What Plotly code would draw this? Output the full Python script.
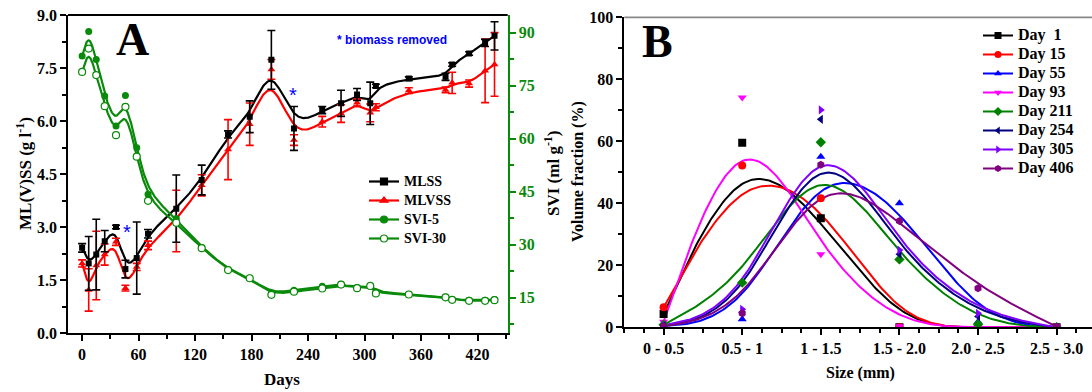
import numpy as np
import plotly.graph_objects as go

# ---------------- Panel A data ----------------
days = [0, 7, 15, 24, 36, 46, 58, 70, 100, 127, 155, 178, 201, 225, 255, 275, 292, 306, 312, 347, 386, 393, 411, 428, 438]
mlss = [2.41, 1.97, 2.22, 2.60, 3.00, 1.81, 2.12, 2.81, 3.52, 4.33, 5.62, 6.12, 7.73, 5.79, 6.31, 6.50, 6.75, 6.50, 6.99, 7.20, 7.25, 7.60, 7.91, 8.21, 8.41]
mlss_err = [0.12, 0.76, 1.00, 0.30, 0.05, 0.25, 1.02, 0.12, 0.95, 0.42, 0.10, 0.45, 0.83, 0.62, 0.10, 0.37, 0.17, 0.60, 0.05, 0.05, 0.10, 0.05, 0.05, 0.10, 0.40]
mlvss = [1.97, 1.22, 1.91, 2.22, 2.58, 1.27, 1.87, 2.48, 3.17, 4.18, 5.19, 5.91, 7.46, 5.46, 5.98, 6.21, 6.52, 6.23, 6.39, 6.86, 6.88, 7.08, 7.06, 7.42, 7.60]
mlvss_err = [0.10, 0.60, 0.97, 0.30, 0.10, 0.08, 0.10, 0.12, 0.87, 0.30, 0.85, 0.60, 0.28, 0.15, 0.15, 0.25, 0.10, 0.25, 0.10, 0.08, 0.08, 0.30, 0.10, 0.90, 0.90]
svi5 = [83.4, 90.3, 82.4, 72.1, 63.6, 72.2, 57.4, 44.3, 37.4, 29.2, 23.0, 20.6, 16.2, 17.1, 18.2, 18.8, 17.9, 18.5, 16.6, 16.0, 15.2, 14.5, 14.3, 14.3, 14.5]
svi30 = [78.9, 85.5, 78.0, 69.2, 61.0, 69.0, 54.9, 42.4, 36.2, 29.0, 22.8, 20.5, 15.8, 16.7, 17.6, 18.7, 17.7, 18.3, 16.2, 15.9, 15.1, 14.4, 14.1, 14.1, 14.3]
removed_days = [48, 224]
removed_y = [2.85, 6.73]

# ---------------- Panel B data ----------------
size_labels = ["0 - 0.5", "0.5 - 1", "1 - 1.5", "1.5 - 2.0", "2.0 - 2.5", "2.5 - 3.0"]
day_names = ["Day  1", "Day 15", "Day 55", "Day 93", "Day 211", "Day 254", "Day 305", "Day 406"]
vol_day1 = [4.3, 59.5, 35.2, 0, 0, 0]
vol_day15 = [6.5, 52.2, 41.6, 0, 0, 0]
vol_day55 = [0.4, 2.6, 55.0, 40.0, 1.8, 0]
vol_day93 = [1.8, 74.1, 23.6, 0.3, 0, 0]
vol_day211 = [0.8, 14.4, 59.7, 21.9, 1.0, 0]
vol_day254 = [0.5, 4.8, 67.1, 23.6, 3.5, 0]
vol_day305 = [0.6, 5.8, 70.1, 24.9, 4.5, 0]
vol_day406 = [0.3, 4.5, 52.4, 34.3, 12.6, 0.2]


def bspline(xs, ys, per_seg=40):
    """Uniform cubic B-spline with the data points as control points, end points tripled
    (Origin 'B-Spline' connection style)."""
    P = np.column_stack([np.asarray(xs, float), np.asarray(ys, float)])
    Q = np.vstack([P[:1], P[:1], P, P[-1:], P[-1:]])
    t = np.linspace(0, 1, per_seg, endpoint=False)[:, None]
    b0 = (1 - t) ** 3 / 6
    b1 = (3 * t ** 3 - 6 * t ** 2 + 4) / 6
    b2 = (-3 * t ** 3 + 3 * t ** 2 + 3 * t + 1) / 6
    b3 = t ** 3 / 6
    segs = []
    for i in range(len(Q) - 3):
        segs.append(b0 * Q[i] + b1 * Q[i + 1] + b2 * Q[i + 2] + b3 * Q[i + 3])
    segs.append(Q[-1:])
    C = np.vstack(segs)
    return C[:, 0], C[:, 1]


W, H = 1092, 392
MT, MB = 15, 59
PH = H - MT - MB
SERIF = "Liberation Serif"
GREEN = "#0a8a0a"

fig = go.Figure()

# ---------- Panel A ----------
for yv, col, yax in [(svi5, GREEN, "y2"), (svi30, GREEN, "y2"), (mlss, "black", "y"), (mlvss, "red", "y")]:
    cx, cy = bspline(days, yv)
    fig.add_trace(go.Scatter(x=cx, y=cy, mode="lines", line=dict(color=col, width=2.2),
                             xaxis="x", yaxis=yax, showlegend=False, hoverinfo="skip"))

fig.add_trace(go.Scatter(x=days, y=svi5, mode="markers", xaxis="x", yaxis="y2", showlegend=False,
                         marker=dict(symbol="circle", size=7, color=GREEN)))
fig.add_trace(go.Scatter(x=days, y=svi30, mode="markers", xaxis="x", yaxis="y2", showlegend=False,
                         marker=dict(symbol="circle", size=7, color="white", line=dict(color=GREEN, width=1.2))))
fig.add_trace(go.Scatter(x=days, y=mlvss, mode="markers", xaxis="x", yaxis="y", showlegend=False,
                         marker=dict(symbol="triangle-up", size=7, color="red"),
                         error_y=dict(type="data", array=mlvss_err, color="red", thickness=1.6, width=4)))
fig.add_trace(go.Scatter(x=days, y=mlss, mode="markers", xaxis="x", yaxis="y", showlegend=False,
                         marker=dict(symbol="square", size=6, color="black"),
                         error_y=dict(type="data", array=mlss_err, color="black", thickness=1.6, width=4)))


def lname(s, size):
    return '<span style="font-size:%dpx">%s</span>' % (size, s)


# legend proxies A
for name, col, sym, fill in [("MLSS", "black", "square", "black"), ("MLVSS", "red", "triangle-up", "red"),
                             ("SVI-5", GREEN, "circle", GREEN), ("SVI-30", GREEN, "circle", "white")]:
    fig.add_trace(go.Scatter(x=[None], y=[None], mode="lines+markers", name=lname(name, 14), xaxis="x", yaxis="y",
                             line=dict(color=col, width=2.2),
                             marker=dict(symbol=sym, size=7, color=fill, line=dict(color=col, width=1.2)),
                             legend="legend"))

# ---------- Panel B ----------
idx = list(range(len(size_labels)))
series_b = [vol_day1, vol_day15, vol_day55, vol_day93, vol_day211, vol_day254, vol_day305, vol_day406]
colors_b = ["black", "red", "blue", "#ff00ff", "#008000", "#000080", "#8000ff", "#800080"]
symbols_b = ["square", "circle", "triangle-up", "triangle-down", "diamond", "triangle-left", "triangle-right", "hexagon"]

for name, vals, col, sym in zip(day_names, series_b, colors_b, symbols_b):
    cx, cy = bspline(idx, vals)
    fig.add_trace(go.Scatter(x=cx, y=cy, mode="lines", line=dict(color=col, width=2),
                             xaxis="x2", yaxis="y3", showlegend=False, hoverinfo="skip"))
for name, vals, col, sym in zip(day_names, series_b, colors_b, symbols_b):
    fig.add_trace(go.Scatter(x=idx, y=vals, mode="markers", xaxis="x2", yaxis="y3", showlegend=False,
                             marker=dict(symbol=sym, size=8, color=col)))
    fig.add_trace(go.Scatter(x=[None], y=[None], mode="lines+markers", name=lname(name, 16), xaxis="x2", yaxis="y3",
                             line=dict(color=col, width=2), marker=dict(symbol=sym, size=7, color=col),
                             legend="legend2"))

tickfont = dict(family=SERIF, size=16, color="black", weight="bold")
axis_common = dict(showgrid=False, zeroline=False, ticks="outside", ticklen=6, tickwidth=1.5,
                   showline=True, linewidth=1.8, linecolor="black", tickfont=tickfont, tickcolor="black")

fig.update_layout(
    width=W, height=H,
    margin=dict(l=0, r=0, t=MT, b=MB),
    paper_bgcolor="white", plot_bgcolor="white",
    xaxis=dict(domain=[68 / W, 507.7 / W], range=[-15, 452], tickvals=list(range(0, 421, 60)),
               minor=dict(ticks="outside", ticklen=4, tickwidth=1.5, dtick=30, tick0=0, tickcolor="black"),
               anchor="y", **axis_common),
    yaxis=dict(domain=[0, 1], range=[0, 9], tickvals=[0, 1.5, 3, 4.5, 6, 7.5, 9], tickformat=".1f",
               minor=dict(ticks="outside", ticklen=4, tickwidth=1.5, dtick=0.75, tick0=0, tickcolor="black"),
               anchor="x", **axis_common),
    yaxis2=dict(overlaying="y", side="right", anchor="x", range=[5, 95], tickvals=[15, 30, 45, 60, 75, 90],
                showgrid=False, zeroline=False, ticks="outside", ticklen=6, tickwidth=1.5,
                showline=True, linewidth=1.8, linecolor=GREEN, tickcolor=GREEN,
                minor=dict(ticks="outside", ticklen=4, tickwidth=1.5, dtick=7.5, tick0=0, tickcolor=GREEN),
                tickfont=dict(family=SERIF, size=16, color=GREEN, weight="bold")),
    xaxis2=dict(domain=[624.3 / W, 1.0], range=[-0.5, 5.45], tickvals=idx, ticktext=size_labels,
                minor=dict(ticks="outside", ticklen=4, tickwidth=1.5, dtick=0.25, tick0=0, tickcolor="black"),
                anchor="y3", **axis_common),
    yaxis3=dict(domain=[(333 - 327.3) / PH, 1 - (17.3 - 15) / PH], range=[0, 100], tickvals=[0, 20, 40, 60, 80, 100],
                minor=dict(ticks="outside", ticklen=4, tickwidth=1.5, dtick=10, tick0=0, tickcolor="black"),
                anchor="x2", **axis_common),
    legend=dict(x=364 / W, y=(333 - 167) / PH, xanchor="left", yanchor="top", bgcolor="rgba(0,0,0,0)",
                font=dict(family=SERIF, size=11, color="black", weight="bold"), tracegroupgap=0),
    legend2=dict(x=978 / W, y=(333 - 21) / PH, xanchor="left", yanchor="top", bgcolor="rgba(0,0,0,0)",
                 font=dict(family=SERIF, size=11, color="black", weight="bold"), tracegroupgap=0),
    showlegend=True,
)

# top frame lines
fig.add_shape(type="line", xref="paper", yref="paper", x0=68 / W, x1=507.7 / W, y0=1, y1=1,
              line=dict(color="black", width=1.8))
fig.add_shape(type="line", xref="paper", yref="paper", x0=624.3 / W, x1=1.0, y0=1 - (17.3 - 15) / PH,
              y1=1 - (17.3 - 15) / PH, line=dict(color="#888888", width=1.8))


def ann(text, xpx, ypx, size, color="black", family=SERIF, bold=True, angle=0):
    fig.add_annotation(text=text, x=xpx / W, y=(333 - ypx) / PH, xref="paper", yref="paper",
                       showarrow=False, textangle=angle, xanchor="center", yanchor="middle",
                       font=dict(family=family, size=size, color=color, weight="bold" if bold else "normal"))


ann("A", 132, 40, 46)
ann("B", 657, 42, 46)
ann("* biomass removed", 392, 40, 12, color="blue", family="Liberation Sans")
ann("ML(V)SS (g l<sup>-1</sup>)", 24, 174, 17, angle=-90)
ann("SVI (ml g<sup>-1</sup>)", 552, 174, 17, angle=-90)
ann("Volume fraction (%)", 578, 172, 16, angle=-90)
ann("Days", 282, 379, 17)
ann("Size (mm)", 860, 373, 16)

for dx, dy in zip(removed_days, removed_y):
    fig.add_annotation(text="*", x=dx, y=dy, xref="x", yref="y", showarrow=False,
                       font=dict(family="Liberation Sans", size=20, color="blue"))

fig.write_html("out.html")
